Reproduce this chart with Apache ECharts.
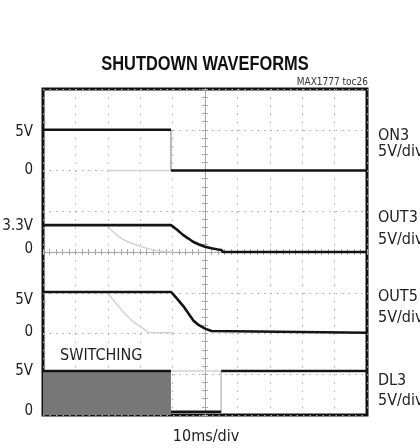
<!DOCTYPE html>
<html>
<head>
<meta charset="utf-8">
<script src="https://cdn.jsdelivr.net/npm/echarts@6/dist/echarts.min.js"></script>
<style>
  html, body { margin: 0; padding: 0; background: #fff; }
  #chart { width: 420px; height: 448px; }
</style>
</head>
<body>
<div id="chart"></div>
<script>
// scope capture, time in ms (10ms/div), levels in volts (5V/div)
const on3Time = [0, 39.5, 39.5, 100]
const on3Volts = [5, 5, 0, 0]
const out3Time = [0, 39.5, 41.3, 43.2, 44.9, 46.3, 48, 50, 52, 54, 55, 55.6, 100]
const out3Volts = [3.3, 3.3, 2.75, 2.1, 1.65, 1.26, 0.95, 0.65, 0.45, 0.3, 0.25, 0, 0]
const out5Time = [0, 39.5, 41.3, 43.3, 44.9, 46.4, 48, 50, 52, 52.6, 100]
const out5Volts = [5, 5, 4.2, 3.26, 2.35, 1.5, 0.95, 0.5, 0.2, 0, 0]
const dl3SwitchTime = [0, 39.5]
const dl3SwitchVolts = [5, 5]
const dl3Time = [39.5, 55, 55, 100]
const dl3Volts = [0, 0, 5, 5]

// faint persistence of the previous sweep
const on3GhostTime = [19.6, 39.5]
const on3GhostVolts = [0, 0]
const out3GhostTime = [19.6, 21, 23, 24.8, 27, 30, 33, 35, 37, 40]
const out3GhostVolts = [3.3, 2.7, 2.0, 1.52, 1.1, 0.7, 0.35, 0.2, 0.08, 0]
const out5GhostTime = [19.6, 21.7, 24.8, 27.9, 31, 32, 33, 40]
const out5GhostVolts = [5, 4.0, 2.55, 1.3, 0.5, 0.2, 0, 0]
const dl3GhostTime = [39.5, 55]
const dl3GhostVolts = [5, 5]

// channel ground positions, in divisions from the bottom
const on3Base = 6
const out3Base = 4
const out5Base = 2.02
const dl3Base = 0.08
const voltsPerDiv = 5

// tick labels
const leftTickDivs = [6.95, 6.01, 4.64, 4.07, 2.82, 2.04, 1.08, 0.1]
const leftTickLabels = ['5V', '0', '3.3V', '0', '5V', '0', '5V', '0']
const channelNames = ['ON3', 'OUT3', 'OUT5', 'DL3']
const channelNameDivs = [6.85, 4.83, 2.9, 0.83]
const channelScales = ['5V/div', '5V/div', '5V/div', '5V/div']
const channelScaleDivs = [6.47, 4.29, 2.38, 0.34]

const font = "'Liberation Sans Narrow', 'Arial Narrow', 'DejaVu Sans Condensed', sans-serif"

function toPoints(times, volts, base) {
  return times.map((t, i) => [t, base + volts[i] / voltsPerDiv])
}

// split fast vertical edges out of a trace so they can be drawn thin
function splitEdges(pts) {
  const body = []
  const edges = []
  pts.forEach((p, i) => {
    if (i > 0 && p[0] === pts[i - 1][0]) {
      body.push([p[0], '-'])
      edges.push(pts[i - 1], p, [p[0], '-'])
    }
    body.push(p)
  })
  return { body, edges }
}

function pickLabel(divs, labels) {
  return function (v) {
    const i = divs.findIndex(d => Math.abs(d - v) < 1e-6)
    return i < 0 ? '' : labels[i]
  }
}

function line(data, color, width, extra) {
  return Object.assign({
    type: 'line',
    data: data,
    symbol: 'none',
    silent: true,
    animation: false,
    lineStyle: { color: color, width: width },
  }, extra || {})
}

function centerAxis(kind, inside) {
  const common = {
    type: 'value',
    min: 0,
    axisLabel: { show: false },
    splitLine: { show: false },
    axisLine: { show: true, lineStyle: { color: '#a8a8a8', width: 1 } },
    axisTick: { show: true, inside: inside, length: 3, lineStyle: { color: '#a8a8a8' } },
    minorTick: { show: true, splitNumber: 5, length: 3, lineStyle: { color: '#a8a8a8' } },
  }
  if (kind === 'x') {
    return Object.assign(common, { max: 100, interval: 10, position: 'bottom', offset: -163 })
  }
  return Object.assign(common, { max: 8, interval: 1, position: 'left', offset: -162 })
}

const on3 = splitEdges(toPoints(on3Time, on3Volts, on3Base))
const out3 = toPoints(out3Time, out3Volts, out3Base)
const out5 = toPoints(out5Time, out5Volts, out5Base)
const dl3 = splitEdges(toPoints(dl3Time, dl3Volts, dl3Base))

const traceColor = '#141414'
const ghostColor = '#d2d2d2'

const chart = echarts.init(document.getElementById('chart'))
chart.setOption({
  backgroundColor: '#fff',
  textStyle: { fontFamily: font },
  grid: {
    left: 43, right: 53, top: 89, bottom: 33,
    outerBoundsMode: 'none',
    containLabel: false,
    show: true, borderColor: '#111', borderWidth: 3,
  },
  xAxis: [
    {
      type: 'value', min: 0, max: 100, interval: 10,
      axisLine: { show: false }, axisTick: { show: false }, axisLabel: { show: false },
      splitLine: { show: true, lineStyle: { color: '#a8a8a8', width: 1, type: [1.5, 6.65] } },
    },
    centerAxis('x', false),
    centerAxis('x', true),
  ],
  yAxis: [
    {
      type: 'value', min: 0, max: 8, interval: 1, position: 'left',
      axisLine: { show: false }, axisTick: { show: false },
      axisLabel: {
        customValues: leftTickDivs,
        formatter: pickLabel(leftTickDivs, leftTickLabels),
        color: '#222', fontSize: 15, fontFamily: font, margin: 10,
      },
      splitLine: { show: true, lineStyle: { color: '#a8a8a8', width: 1, type: [1.5, 5] } },
    },
    {
      type: 'value', min: 0, max: 8, position: 'right',
      axisLine: { show: false }, axisTick: { show: false }, splitLine: { show: false },
      axisLabel: {
        customValues: channelNameDivs,
        formatter: pickLabel(channelNameDivs, channelNames),
        color: '#222', fontSize: 16, fontFamily: font, margin: 11, align: 'left',
      },
    },
    {
      type: 'value', min: 0, max: 8, position: 'right',
      axisLine: { show: false }, axisTick: { show: false }, splitLine: { show: false },
      axisLabel: {
        customValues: channelScaleDivs,
        formatter: pickLabel(channelScaleDivs, channelScales),
        color: '#222', fontSize: 16, fontFamily: font, margin: 11, align: 'left',
      },
    },
    centerAxis('y', false),
    centerAxis('y', true),
  ],
  graphic: [
    {
      type: 'text', x: 205, y: 64, scaleX: 0.82,
      style: {
        text: 'SHUTDOWN WAVEFORMS', fill: '#111',
        font: "bold 20px 'Liberation Sans', Arial, sans-serif",
        textAlign: 'center', textVerticalAlign: 'middle',
      },
    },
    {
      type: 'text', x: 368, y: 82,
      style: {
        text: 'MAX1777 toc26', fill: '#333', font: '10px ' + font,
        textAlign: 'right', textVerticalAlign: 'middle',
      },
    },
    {
      type: 'text', x: 60, y: 356,
      style: { text: 'SWITCHING', fill: '#222', font: '16px ' + font, textVerticalAlign: 'middle' },
    },
    {
      type: 'text', x: 206, y: 437,
      style: {
        text: '10ms/div', fill: '#222', font: '16px ' + font,
        textAlign: 'center', textVerticalAlign: 'middle',
      },
    },
  ],
  series: [
    line(toPoints(on3GhostTime, on3GhostVolts, on3Base), ghostColor, 1.5),
    line(toPoints(out3GhostTime, out3GhostVolts, out3Base), ghostColor, 1.5),
    line(toPoints(out5GhostTime, out5GhostVolts, out5Base), ghostColor, 1.5),
    line(toPoints(dl3GhostTime, dl3GhostVolts, dl3Base), ghostColor, 1.5),
    line(toPoints(dl3SwitchTime, dl3SwitchVolts, dl3Base), traceColor, 2.5, {
      areaStyle: { color: '#777', opacity: 1, origin: 'start' },
    }),
    line(on3.edges, '#777', 1),
    line(dl3.edges, '#bdbdbd', 1.5),
    line(on3.body, traceColor, 2.6),
    line(out3, traceColor, 2.6),
    line(out5, traceColor, 2.6),
    line(dl3.body, traceColor, 2.6),
  ],
})
</script>
</body>
</html>
